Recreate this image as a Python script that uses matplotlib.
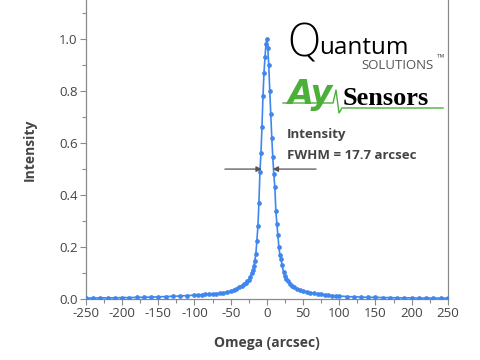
"""
Rocking curve (omega scan) with FWHM annotation and logo text.
"""

import matplotlib.pyplot as plt
from matplotlib.ticker import MultipleLocator

# omega positions (arcsec) and normalised intensity
omega = [
    -250, -240, -230, -220, -210, -200, -190, -180, -170, -160,
    -150, -140, -130, -120, -110, -100, -95, -90, -85, -80,
    -75, -70, -65, -60, -55, -50, -46, -42, -38, -35,
    -32, -29, -27, -25, -23, -21, -19.5, -18, -16.6, -15.2,
    -13.8, -12.4, -11, -9.6, -8.2, -6.8, -5.4, -4, -2.6, -1.3,
    0, 1.3, 2.6, 4, 5.4, 6.8, 8.2, 9.6, 11, 12.4,
    13.8, 15.2, 16.6, 18, 19.5, 21, 23, 25, 27, 29,
    32, 35, 38, 42, 46, 50, 55, 60, 65, 70,
    75, 80, 85, 90, 95, 100, 110, 120, 130, 140,
    150, 160, 170, 180, 190, 200, 210, 220, 230, 240, 250,
]
intensity = [
    0.004, 0.004, 0.005, 0.005, 0.005, 0.006, 0.006, 0.007, 0.007, 0.008,
    0.009, 0.010, 0.011, 0.012, 0.014, 0.015, 0.016, 0.017, 0.018, 0.019,
    0.020, 0.021, 0.022, 0.024, 0.027, 0.030, 0.034, 0.040, 0.046, 0.052,
    0.057, 0.063, 0.068, 0.075, 0.085, 0.099, 0.112, 0.128, 0.148, 0.175,
    0.225, 0.280, 0.370, 0.490, 0.560, 0.660, 0.780, 0.870, 0.930, 0.980,
    1.000, 0.965, 0.900, 0.800, 0.710, 0.620, 0.545, 0.480, 0.430, 0.340,
    0.290, 0.245, 0.200, 0.170, 0.155, 0.130, 0.105, 0.088, 0.078, 0.068,
    0.058, 0.050, 0.045, 0.039, 0.035, 0.031, 0.028, 0.025, 0.022, 0.020,
    0.018, 0.016, 0.015, 0.014, 0.013, 0.012, 0.010, 0.009, 0.008, 0.007,
    0.007, 0.006, 0.006, 0.005, 0.005, 0.005, 0.004, 0.004, 0.004, 0.004, 0.004,
]

x_ticks = [-250, -200, -150, -100, -50, 0, 50, 100, 150, 200, 250]
y_ticks = [0.0, 0.2, 0.4, 0.6, 0.8, 1.0]

# FWHM arrow annotation (half maximum level)
half_max = 0.5
arrow_left = (-58, -7)
arrow_right = (68, 8)

BLUE = "#3f86ef"
GRAY = "#444444"
SPINE = "#8a8a8a"
GREEN = "#4caf3a"

plt.rcParams["font.family"] = ["Open Sans", "DejaVu Sans"]
plt.rcParams["axes.unicode_minus"] = False


def main() -> None:
    fig = plt.figure(figsize=(4.8, 3.6), dpi=100)
    ax = fig.add_axes([0.179, 0.169, 0.754, 0.831])

    ax.plot(omega, intensity, color=BLUE, linewidth=1.2, marker="o",
            markersize=3.4, markeredgewidth=0, zorder=3)

    ax.set_xlim(-250, 250)
    ax.set_ylim(0, 1.15)
    ax.set_xticks(x_ticks)
    ax.set_yticks(y_ticks)
    ax.set_yticklabels([f"{v:.1f}" for v in y_ticks])
    ax.xaxis.set_minor_locator(MultipleLocator(25))
    ax.yaxis.set_minor_locator(MultipleLocator(0.1))
    ax.tick_params(which="both", direction="out", color=SPINE, labelcolor=GRAY,
                   labelsize=9.5, width=0.8)
    ax.tick_params(which="major", length=4, pad=2)
    ax.tick_params(which="minor", length=3)

    ax.spines["top"].set_visible(False)
    for side in ("left", "right", "bottom"):
        ax.spines[side].set_color(SPINE)
        ax.spines[side].set_linewidth(0.9)

    ax.set_xlabel("Omega (arcsec)", fontsize=10, fontweight="bold", color=GRAY, labelpad=11)
    ax.set_ylabel("Intensity", fontsize=10, fontweight="bold", color=GRAY, labelpad=16)

    arrow_kw = dict(arrowstyle="-|>", color="#555555", lw=0.9, mutation_scale=8,
                    shrinkA=0, shrinkB=0)
    ax.annotate("", xy=(arrow_left[1], half_max), xytext=(arrow_left[0], half_max),
                arrowprops=arrow_kw)
    ax.annotate("", xy=(arrow_right[1], half_max), xytext=(arrow_right[0], half_max),
                arrowprops=arrow_kw)

    # logo block, placed in figure pixel fractions
    def fx(px):
        return px / 480

    def fy(py):
        return 1 - py / 360

    fig.text(fx(286), fy(56), "Q", fontsize=32, color="black", family="DejaVu Sans",
             fontweight="light", va="baseline")
    fig.text(fx(319), fy(54), "uantum", fontsize=17.5, color="black", va="baseline")
    fig.text(fx(361), fy(69), "SOLUTIONS", fontsize=9.5, color="#555555", va="baseline")
    fig.text(fx(437), fy(60), "\u2122", fontsize=7, color="#555555", va="baseline")

    fig.text(fx(287), fy(104), "Ay", fontsize=24, color=GREEN, fontweight="bold",
             style="italic", va="baseline", family="DejaVu Sans")
    fig.lines.append(plt.Line2D(
        [fx(283), fx(296), fx(333), fx(336), fx(339), fx(342), fx(443)],
        [fy(103), fy(103), fy(103), fy(90), fy(113), fy(108), fy(108)],
        transform=fig.transFigure, color=GREEN, lw=1.0))
    fig.text(fx(343), fy(105), "Sensors", fontsize=19, color="black", fontweight="bold",
             family="Liberation Serif", va="baseline")

    fig.text(fx(287), fy(138), "Intensity", fontsize=9.5, color=GRAY, fontweight="bold",
             va="baseline")
    fig.text(fx(287), fy(159), "FWHM = 17.7 arcsec", fontsize=9.5, color=GRAY,
             fontweight="bold", va="baseline")

    fig.savefig("out.png", dpi=100)
    plt.close(fig)


if __name__ == "__main__":
    main()
